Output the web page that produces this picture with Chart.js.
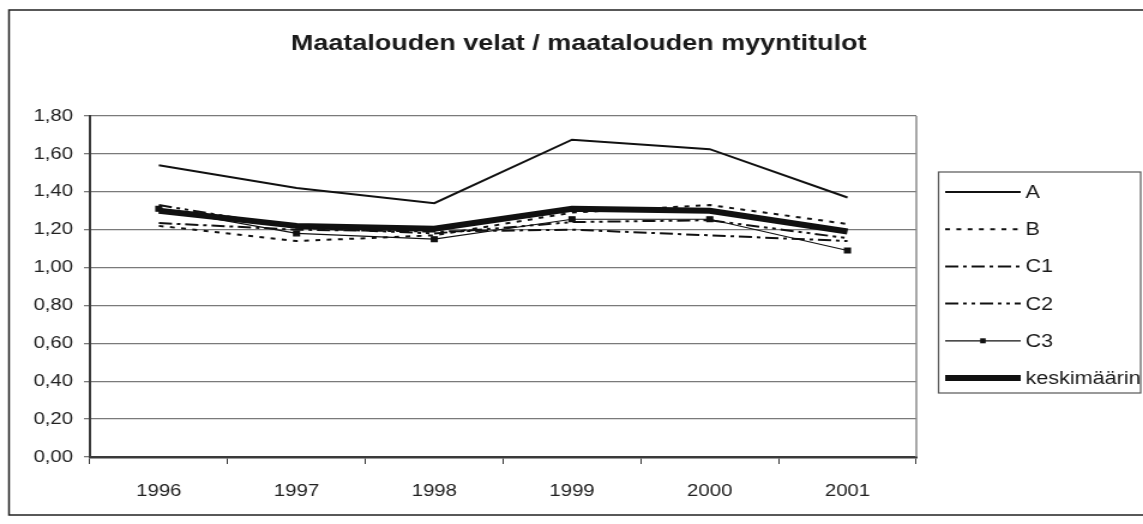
<!DOCTYPE html>
<html>
<head>
<meta charset="utf-8">
<script src="https://cdn.jsdelivr.net/npm/chart.js@4"></script>
<style>
  html, body { margin: 0; padding: 0; background: #fff; overflow: hidden; }
  /* the scan is a bit wider than it is tall, so stretch the whole thing sideways */
  #wrap { width: 953px; height: 524px; transform: scaleX(1.1994); transform-origin: 0 0; }
</style>
</head>
<body>
<div id="wrap"><canvas id="velatChart" width="953" height="524"></canvas></div>
<script>
// --- data ---
const years = ['1996', '1997', '1998', '1999', '2000', '2001'];
const seriesA = [1.54, 1.42, 1.34, 1.675, 1.625, 1.37];
const seriesB = [1.22, 1.14, 1.17, 1.29, 1.33, 1.23];
const seriesC1 = [1.235, 1.20, 1.19, 1.20, 1.17, 1.14];
const seriesC2 = [1.33, 1.21, 1.18, 1.24, 1.25, 1.155];
const seriesC3 = [1.31, 1.18, 1.15, 1.255, 1.255, 1.09];
const keskiarvo = [1.30, 1.22, 1.205, 1.31, 1.30, 1.19];
const yTicks = [0, 0.2, 0.4, 0.6, 0.8, 1.0, 1.2, 1.4, 1.6, 1.8];

const FONT = '"Liberation Sans", Arial, sans-serif';
let velatChart;

// frame, title, plot border and the boxed legend on the right
const decorPlugin = {
    id: 'decor',
    beforeDraw(chart) {
        const ctx = chart.ctx;
        ctx.save();
        ctx.fillStyle = '#fff';
        ctx.fillRect(0, 0, chart.width, chart.height);
        ctx.strokeStyle = '#222';
        ctx.lineWidth = 1.5;
        ctx.strokeRect(7.5, 10, chart.width + 10, 505);
        ctx.restore();
    },
    afterDraw(chart) {
        const ctx = chart.ctx;
        const area = chart.chartArea;
        ctx.save();

        // right edge of the plot area
        ctx.strokeStyle = '#8a8a8a';
        ctx.lineWidth = 1.5;
        ctx.beginPath();
        ctx.moveTo(area.right, area.top);
        ctx.lineTo(area.right, area.bottom);
        ctx.stroke();

        // title
        ctx.fillStyle = '#1a1a1a';
        ctx.font = 'bold 22.5px ' + FONT;
        ctx.textAlign = 'center';
        ctx.textBaseline = 'middle';
        ctx.fillText('Maatalouden velat / maatalouden myyntitulot', 482.5, 44);

        // legend box
        ctx.strokeStyle = '#555';
        ctx.lineWidth = 1.2;
        ctx.strokeRect(782.5, 172, 168.5, 221);

        ctx.font = '18px ' + FONT;
        ctx.textAlign = 'left';
        chart.data.datasets.forEach((ds, i) => {
            const y = 192 + i * 37.2;
            ctx.strokeStyle = '#111';
            ctx.lineWidth = ds.borderWidth;
            ctx.setLineDash(ds.borderDash || []);
            ctx.beginPath();
            ctx.moveTo(788, y);
            ctx.lineTo(851, y);
            ctx.stroke();
            ctx.setLineDash([]);
            if (ds.pointRadius > 0) {
                ctx.fillStyle = '#111';
                ctx.fillRect(819.5 - 2.3, y - 2.5, 4.6, 5);
            }
            ctx.fillStyle = '#1a1a1a';
            ctx.fillText(ds.label, 855, y + 1);
        });
        ctx.restore();
    }
};

function makeSet(label, data, width, dash, marker) {
    return {
        label: label,
        data: data,
        borderColor: '#111',
        backgroundColor: '#111',
        borderWidth: width,
        borderDash: dash,
        pointRadius: marker ? 3.4 : 0,
        pointStyle: 'rect',
        pointHoverRadius: 0,
        tension: 0,
        fill: false
    };
}

function initChart() {
    const ctxC = document.getElementById('velatChart').getContext('2d');

    velatChart = new Chart(ctxC, {
        type: 'line',
        data: {
            labels: years,
            datasets: [
                makeSet('A', seriesA, 2, [], false),
                makeSet('B', seriesB, 2, [4, 5.4], false),
                makeSet('C1', seriesC1, 2, [11, 4, 3, 4], false),
                makeSet('C2', seriesC2, 2, [11, 4, 3, 4, 3, 4], false),
                makeSet('C3', seriesC3, 1.2, [], true),
                makeSet('keskimäärin', keskiarvo, 6, [], false)
            ]
        },
        options: {
            responsive: false,
            animation: false,
            layout: { padding: { top: 116, right: 189, bottom: 0, left: 0 } },
            scales: {
                y: {
                    min: 0,
                    max: 1.8,
                    afterFit: (s) => { s.width = 75; },
                    afterBuildTicks: (s) => { s.ticks = yTicks.map(v => ({ value: v })); },
                    grid: { color: '#7a7a7a', lineWidth: 1.3, tickLength: 5 },
                    border: { color: '#3a3a3a', width: 2 },
                    ticks: {
                        color: '#222',
                        padding: 9,
                        font: { family: FONT, size: 17 },
                        callback: (v) => v.toFixed(2).replace('.', ',')
                    }
                },
                x: {
                    offset: true,
                    afterFit: (s) => { s.height = 67; },
                    grid: { offset: true, drawOnChartArea: false, color: '#3a3a3a', tickLength: 7 },
                    border: { color: '#3a3a3a', width: 2.5 },
                    ticks: {
                        color: '#222',
                        padding: 17,
                        maxRotation: 0,
                        font: { family: FONT, size: 17 }
                    }
                }
            },
            plugins: { legend: { display: false }, title: { display: false }, tooltip: { enabled: false } }
        },
        plugins: [decorPlugin]
    });
}

initChart();
</script>
</body>
</html>
